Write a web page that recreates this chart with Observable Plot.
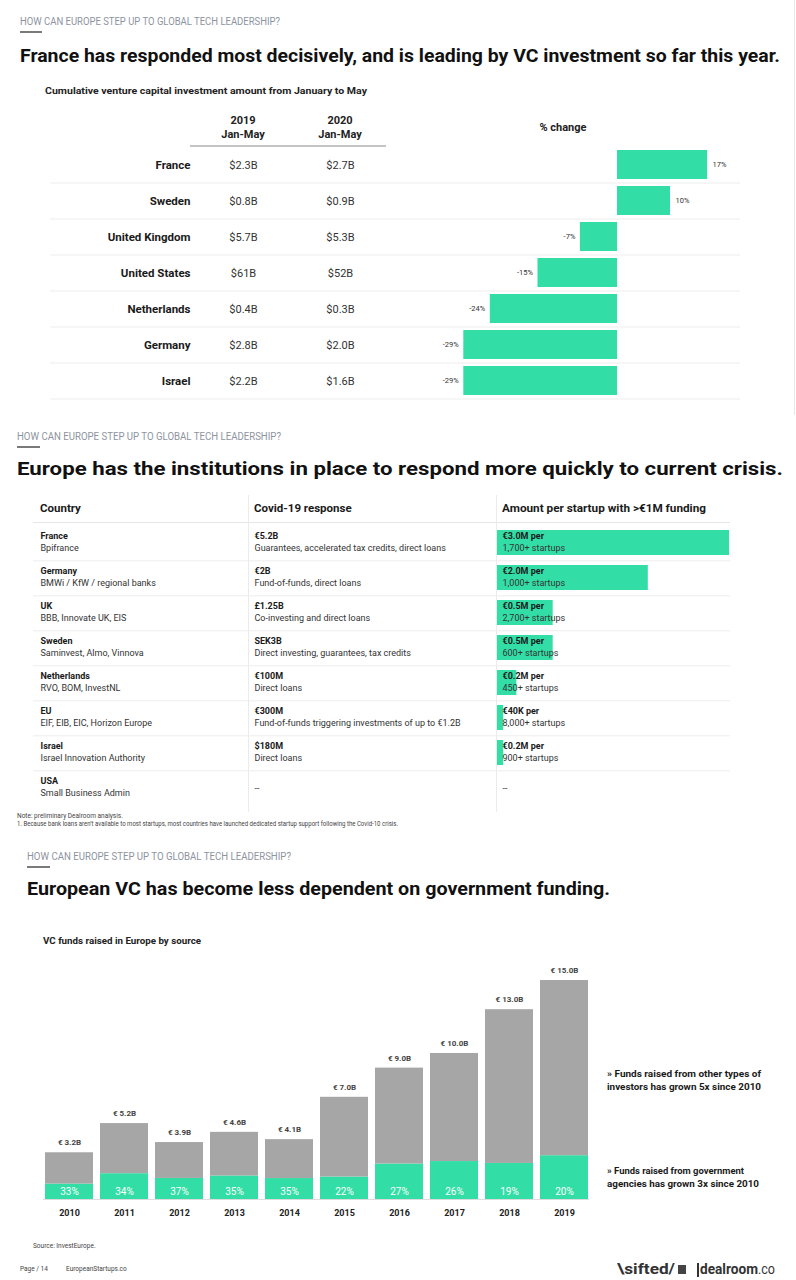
<!DOCTYPE html>
<html><head><meta charset="utf-8">
<script src="https://cdn.jsdelivr.net/npm/d3@7"></script>
<script src="https://cdn.jsdelivr.net/npm/@observablehq/plot@0.6"></script>
<style>
html,body{margin:0;padding:0;background:#fff;}
#page{position:relative;width:796px;height:1280px;overflow:hidden;background:#fff;font-family:Roboto,"Open Sans",sans-serif;}
.abs{position:absolute;white-space:nowrap;}
.line{position:absolute;}
svg{position:absolute;left:0;}
</style>
</head><body>
<div id="page"></div>
<script>
// ---------- DATA ----------
// Panel 1: cumulative VC investment Jan–May
const p1Countries = ["France","Sweden","United Kingdom","United States","Netherlands","Germany","Israel"];
const p1Vc2019 = ["$2.3B","$0.8B","$5.7B","$61B","$0.4B","$2.8B","$2.2B"];
const p1Vc2020 = ["$2.7B","$0.9B","$5.3B","$52B","$0.3B","$2.0B","$1.6B"];
const p1Change = [17, 10, -7, -15, -24, -29, -29];

// Panel 2: institutions' Covid-19 response
const p2Countries = ["France","Germany","UK","Sweden","Netherlands","EU","Israel","USA"];
const p2Agencies = ["Bpifrance","BMWi / KfW / regional banks","BBB, Innovate UK, EIS","Saminvest, Almo, Vinnova","RVO, BOM, InvestNL","EIF, EIB, EIC, Horizon Europe","Israel Innovation Authority","Small Business Admin"];
const p2Amount = ["€5.2B","€2B","£1.25B","SEK3B","€100M","€300M","$180M","--"];
const p2Type = ["Guarantees, accelerated tax credits, direct loans","Fund-of-funds, direct loans","Co-investing and direct loans","Direct investing, guarantees, tax credits","Direct loans","Fund-of-funds triggering investments of up to €1.2B","Direct loans",""];
const p2PerStartup = ["€3.0M per","€2.0M per","€0.5M per","€0.5M per","€0.2M per","€40K per","€0.2M per","--"];
const p2Startups = ["1,700+ startups","1,000+ startups","2,700+ startups","600+ startups","450+ startups","8,000+ startups","900+ startups",""];
const p2BarLength = [3.0, 1.95, 0.72, 0.72, 0.25, 0.08, 0.08, null]; // bar length as drawn (€M)

// Panel 3: VC funds raised in Europe by source
const p3Years = ["2010","2011","2012","2013","2014","2015","2016","2017","2018","2019"];
const p3Total = [3.2, 5.2, 3.9, 4.6, 4.1, 7.0, 9.0, 10.0, 13.0, 15.0];
const p3GovShare = [33, 34, 37, 35, 35, 22, 27, 26, 19, 20];

// ---------- STYLE ----------
const GREEN = "#33dea6";
const GRAY = "#a6a6a6";
const FONT = "Roboto, 'Open Sans', sans-serif";
const page = document.getElementById("page");

function put(text, x, cy, o = {}) {
  const d = document.createElement("div");
  d.className = "abs";
  const fs = o.fs || 10;
  d.style.fontSize = fs + "px";
  d.style.lineHeight = fs + "px";
  d.style.top = (cy - fs * 0.55) + "px";
  d.style.left = x + "px";
  d.style.fontWeight = o.bold ? 700 : 400;
  d.style.color = o.color || "#222";
  d.textContent = text;
  page.appendChild(d);
  const w = d.getBoundingClientRect().width;
  let sx = o.w ? o.w / w : 1;
  if (o.anchor === "middle") { d.style.left = (x - (w * sx) / 2) + "px"; }
  d.style.transformOrigin = "left center";
  if (sx !== 1) d.style.transform = `scaleX(${sx})`;
  return d;
}
function line(x, y, w, h, color) {
  const d = document.createElement("div");
  d.className = "line";
  Object.assign(d.style, {left: x + "px", top: y + "px", width: w + "px", height: h + "px", background: color});
  page.appendChild(d);
}
function place(svg, top) { svg.style.top = top + "px"; page.appendChild(svg); }

const KICK = "HOW CAN EUROPE STEP UP TO GLOBAL TECH LEADERSHIP?";
const KCOL = "#8d94a0";

// ---------- PANEL 1 ----------
line(794, 0, 1, 415, "#e8e8e8");
put(KICK, 20, 22, {fs: 10, color: KCOL, w: 260});
line(20, 31, 22, 2, "#7a7a7a");
put("France has responded most decisively, and is leading by VC investment so far this year.", 20, 57, {fs: 18, bold: true, color: "#111", w: 760});
put("Cumulative venture capital investment amount from January to May", 45, 91, {fs: 9.5, bold: true, color: "#222", w: 322});
put("2019", 243, 121, {fs: 11, bold: true, anchor: "middle"});
put("Jan-May", 243, 135, {fs: 11, bold: true, anchor: "middle"});
put("2020", 340, 121, {fs: 11, bold: true, anchor: "middle"});
put("Jan-May", 340, 135, {fs: 11, bold: true, anchor: "middle"});
line(190, 145, 196, 2, "#c4c4c4");
put("% change", 563, 128, {fs: 11, bold: true, anchor: "middle"});

const p1Rows = p1Countries.map((c, i) => ({country: c, v19: p1Vc2019[i], v20: p1Vc2020[i], pct: p1Change[i]}));
const plot1 = Plot.plot({
  width: 796, height: 310,
  marginLeft: 50, marginRight: 56, marginTop: 0, marginBottom: 0,
  style: {fontFamily: FONT, background: "transparent", overflow: "visible"},
  x: {domain: [-30, 20], range: [617 - 30 * 5.3, 617 + 20 * 5.3], axis: null},
  y: {type: "band", domain: p1Countries, range: [45.5, 299.5], paddingInner: 0.2, paddingOuter: 0.1, axis: null},
  marks: [
    Plot.ruleY(p1Rows, {y: "country", dy: 18, stroke: "#ededed", strokeWidth: 1}),
    Plot.barX(p1Rows, {x1: 0, x2: "pct", y: "country", fill: GREEN}),
    Plot.text(p1Rows, {y: "country", text: "country", frameAnchor: "left", dx: 140, textAnchor: "end", fontWeight: 700, fontSize: 11.5, fill: "#1a1a1a"}),
    Plot.text(p1Rows, {y: "country", text: "v19", frameAnchor: "left", dx: 193, textAnchor: "middle", fontSize: 11, fill: "#333"}),
    Plot.text(p1Rows, {y: "country", text: "v20", frameAnchor: "left", dx: 290, textAnchor: "middle", fontSize: 11, fill: "#333"}),
    Plot.text(p1Rows.filter(d => d.pct >= 0), {x: "pct", y: "country", text: d => d.pct + "%", dx: 5, textAnchor: "start", fontSize: 7.5, fill: "#333"}),
    Plot.text(p1Rows.filter(d => d.pct < 0), {x: "pct", y: "country", text: d => d.pct + "%", dx: -5, textAnchor: "end", fontSize: 7.5, fill: "#333"})
  ]
});
place(plot1, 100);

// ---------- PANEL 2 ----------
put(KICK, 17, 437, {fs: 10, color: KCOL, w: 264});
line(17, 446, 23, 2, "#7a7a7a");
put("Europe has the institutions in place to respond more quickly to current crisis.", 17, 470, {fs: 18, bold: true, color: "#111", w: 766});
put("Country", 40, 509, {fs: 11.5, bold: true, color: "#1a1a1a"});
put("Covid-19 response", 254, 509, {fs: 11.5, bold: true, color: "#1a1a1a"});
put("Amount per startup with >€1M funding", 502, 509, {fs: 11.5, bold: true, color: "#1a1a1a", w: 204});
line(33, 522, 697, 1, "#e6e6e6");
line(248, 495, 1, 317, "#ebebeb");
line(496, 495, 1, 317, "#ebebeb");

const p2Rows = p2Countries.map((c, i) => ({country: c, agency: p2Agencies[i], amount: p2Amount[i], type: p2Type[i], per: p2PerStartup[i], startups: p2Startups[i], bar: p2BarLength[i]}));
const T = {frameAnchor: "left", textAnchor: "start", y: "country", fontSize: 9};
const plot2 = Plot.plot({
  width: 796, height: 320,
  marginLeft: 33, marginRight: 66, marginTop: 0, marginBottom: 0,
  style: {fontFamily: FONT, background: "transparent", overflow: "visible"},
  x: {domain: [0, 3], range: [497, 729], axis: null},
  y: {type: "band", domain: p2Countries, range: [32, 32 + 284.6], paddingInner: 0.3, paddingOuter: 0.15, axis: null},
  marks: [
    Plot.ruleY(p2Rows.slice(0, -1), {y: "country", dy: 17.8, stroke: "#ededed"}),
    Plot.barX(p2Rows.filter(d => d.bar != null), {x1: 0, x2: "bar", y: "country", fill: GREEN}),
    Plot.text(p2Rows, {...T, text: "country", dx: 7, dy: -6.5, fontWeight: 700, fill: "#1a1a1a"}),
    Plot.text(p2Rows, {...T, text: "agency", dx: 7, dy: 5.5, fill: "#333"}),
    Plot.text(p2Rows.filter(d => d.type), {...T, text: "amount", dx: 221, dy: -6.5, fontWeight: 700, fill: "#1a1a1a"}),
    Plot.text(p2Rows.filter(d => d.type), {...T, text: "type", dx: 221, dy: 5.5, fill: "#333"}),
    Plot.text(p2Rows.filter(d => !d.type), {...T, text: "amount", dx: 221, dy: 0, fill: "#333"}),
    Plot.text(p2Rows.filter(d => d.startups), {...T, text: "per", dx: 469, dy: -6.5, fontWeight: 700, fill: "#1a1a1a"}),
    Plot.text(p2Rows.filter(d => d.startups), {...T, text: "startups", dx: 469, dy: 5.5, fill: "#333"}),
    Plot.text(p2Rows.filter(d => !d.startups), {...T, text: "per", dx: 469, dy: 0, fill: "#333"})
  ]
});
place(plot2, 490);
put("Note: preliminary Dealroom analysis.", 17, 817, {fs: 6.5, color: "#444"});
put("1. Because bank loans aren’t available to most startups, most countries have launched dedicated startup support following the Covid-10 crisis.", 17, 825, {fs: 6.5, color: "#444", w: 381});

// ---------- PANEL 3 ----------
put(KICK, 27, 857, {fs: 10, color: KCOL, w: 264});
line(27, 866, 23, 2, "#7a7a7a");
put("European VC has become less dependent on government funding.", 27, 890, {fs: 18, bold: true, color: "#111", w: 583});
put("VC funds raised in Europe by source", 43, 942, {fs: 9, bold: true, color: "#222", w: 158});

const p3Rows = p3Years.map((y, i) => ({year: y, total: p3Total[i], share: p3GovShare[i], gov: p3Total[i] * p3GovShare[i] / 100}));
const plot3 = Plot.plot({
  width: 796, height: 280,
  marginLeft: 43, marginRight: 207, marginTop: 0, marginBottom: 31,
  style: {fontFamily: FONT, background: "transparent", overflow: "visible"},
  x: {type: "band", domain: p3Years, range: [43, 589], paddingInner: 0.135, paddingOuter: 0, label: null},
  y: {domain: [0, 15], range: [249, 30], axis: null},
  marks: [
    Plot.barY(p3Rows, {x: "year", y1: 0, y2: "gov", fill: GREEN}),
    Plot.barY(p3Rows, {x: "year", y1: "gov", y2: "total", fill: GRAY}),
    Plot.ruleY([0], {stroke: "#dcdcdc"}),
    Plot.text(p3Rows, {x: "year", y: "total", dy: -10, text: d => "€ " + d.total.toFixed(1) + "B", fontSize: 8, fontWeight: 700, fill: "#444"}),
    Plot.text(p3Rows, {x: "year", y: 0, dy: -8, text: d => d.share + "%", fill: "#fff", fontSize: 10}),
    Plot.axisX({tickSize: 0, tickPadding: 10, fontSize: 9, fontWeight: 700, fill: "#222", label: null})
  ]
});
place(plot3, 950);

put("» Funds raised from other types of", 607, 1074, {fs: 9.5, bold: true, color: "#1a1a1a", w: 154});
put("investors has grown 5x since 2010", 607, 1087, {fs: 9.5, bold: true, color: "#1a1a1a", w: 154});
put("» Funds raised from government", 607, 1171, {fs: 9.5, bold: true, color: "#1a1a1a", w: 137});
put("agencies has grown 3x since 2010", 607, 1184, {fs: 9.5, bold: true, color: "#1a1a1a", w: 152});

put("Source: InvestEurope.", 33, 1247, {fs: 6.5, color: "#444"});
put("Page / 14", 20, 1270, {fs: 6.5, color: "#444"});
put("EuropeanStartups.co", 66, 1270, {fs: 6.5, color: "#444"});
put("\\sifted/", 617, 1270, {fs: 14, bold: true, color: "#333", w: 58});
line(678, 1265, 8, 9, "#444");
line(697, 1263, 1.5, 14, "#333");
put("dealroom", 700, 1270, {fs: 14, bold: true, color: "#333", w: 58});
put(".co", 758, 1270, {fs: 14, color: "#333", w: 17});
</script>
</body></html>
